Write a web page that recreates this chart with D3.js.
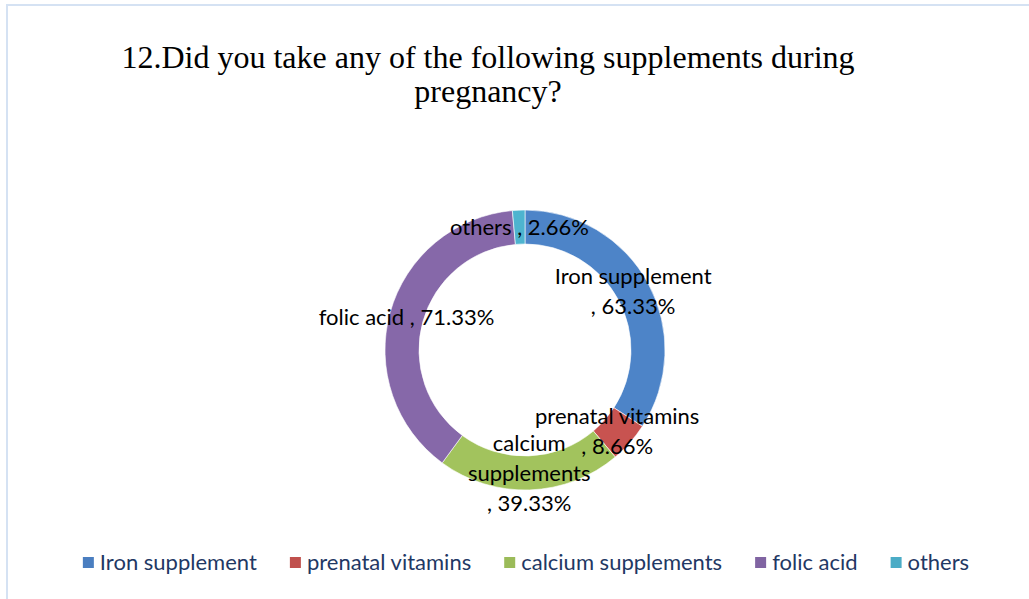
<!DOCTYPE html>
<html>
<head>
<meta charset="utf-8">
<script src="https://cdn.jsdelivr.net/npm/d3@7"></script>
<style>
  html, body { margin: 0; padding: 0; background: #fff; }
  svg { display: block; }
</style>
</head>
<body>
<svg id="chart" width="1029" height="599"></svg>
<script>
// data
var categories = ["Iron supplement", "prenatal vitamins", "calcium supplements", "folic acid", "others"];
var values = [63.33, 8.66, 39.33, 71.33, 2.66];
var labelLines = [
  ["Iron supplement", ", 63.33%"],
  ["prenatal vitamins", ", 8.66%"],
  ["calcium", "supplements", ", 39.33%"],
  ["folic acid , 71.33%"],
  ["others , 2.66%"]
];
var titleLines = ["12.Did you take any of the following supplements during", "pregnancy?"];

var colors = ["#4A7EC0", "#C0504D", "#9BBB59", "#8064A2", "#4BACC6"];

var svg = d3.select("#chart"),
    width = 1029, height = 599,
    cx = 525, cy = 350,
    outerR = 140, innerR = 106;

// chart area frame
svg.append("rect")
  .attr("x", 7).attr("y", 5)
  .attr("width", width + 10).attr("height", height + 10)
  .attr("fill", "#fff")
  .attr("stroke", "#D5E2F3").attr("stroke-width", 2);

// title
svg.append("g").selectAll("text")
  .data(titleLines)
  .enter()
  .append("text")
  .attr("x", 488)
  .attr("y", function(d, i) { return 68 + i * 34; })
  .attr("text-anchor", "middle")
  .style("font-family", "'Liberation Serif', 'Times New Roman', serif")
  .style("font-size", "32px")
  .style("fill", "#000")
  .text(function(d) { return d; });

// gradients, a bit lighter on top like the old office look
var defs = svg.append("defs");
colors.forEach(function(c, i) {
  var grad = defs.append("linearGradient")
    .attr("id", "grad" + i)
    .attr("gradientUnits", "userSpaceOnUse")
    .attr("x1", 0).attr("y1", cy - outerR)
    .attr("x2", 0).attr("y2", cy + outerR);
  grad.append("stop").attr("offset", "0%").attr("stop-color", d3.color(c).brighter(0.12));
  grad.append("stop").attr("offset", "100%").attr("stop-color", d3.color(c).darker(0.2));
});

var pie = d3.pie().sort(null).value(function(d) { return d; });
var arc = d3.arc().innerRadius(innerR).outerRadius(outerR);
var arcs = pie(values);

var g = svg.append("g")
  .attr("transform", "translate(" + cx + "," + cy + ")");

g.selectAll(".slice")
  .data(arcs)
  .enter()
  .append("path")
  .attr("class", "slice")
  .attr("d", arc)
  .attr("fill", function(d, i) { return "url(#grad" + i + ")"; })
  .attr("stroke", "#fff")
  .attr("stroke-width", 0.6);

// labels at the middle of each ring piece
var lineH = 30;
var labels = g.selectAll(".label")
  .data(arcs)
  .enter()
  .append("text")
  .attr("class", "label")
  .attr("text-anchor", "middle")
  .style("font-family", "Lato, 'Open Sans', sans-serif")
  .style("font-size", "22px")
  .style("fill", "#000");

labels.each(function(d, i) {
  var c = arc.centroid(d),
      lines = labelLines[i],
      top = c[1] - (lines.length - 1) * lineH / 2;
  d3.select(this).selectAll("tspan")
    .data(lines)
    .enter()
    .append("tspan")
    .attr("x", c[0])
    .attr("y", function(l, j) { return top + j * lineH; })
    .attr("dy", "0.35em")
    .text(function(l) { return l; });
});

// legend, centered under the ring
var legend = svg.append("g");
var items = legend.selectAll(".item")
  .data(categories)
  .enter()
  .append("g")
  .attr("class", "item");

items.append("rect")
  .attr("width", 11).attr("height", 11)
  .attr("y", -13)
  .attr("fill", function(d, i) { return colors[i]; });

items.append("text")
  .attr("x", 17)
  .style("font-family", "Lato, 'Open Sans', sans-serif")
  .style("font-size", "22px")
  .style("fill", "#1F3864")
  .text(function(d) { return d; });

var gap = 33, xPos = 0;
items.each(function() {
  var w = this.getBBox().width;
  d3.select(this).attr("transform", "translate(" + xPos + ",0)");
  xPos += w + gap;
});
var totalW = xPos - gap;
legend.attr("transform", "translate(" + (526 - totalW / 2) + ",570)");
</script>
</body>
</html>
